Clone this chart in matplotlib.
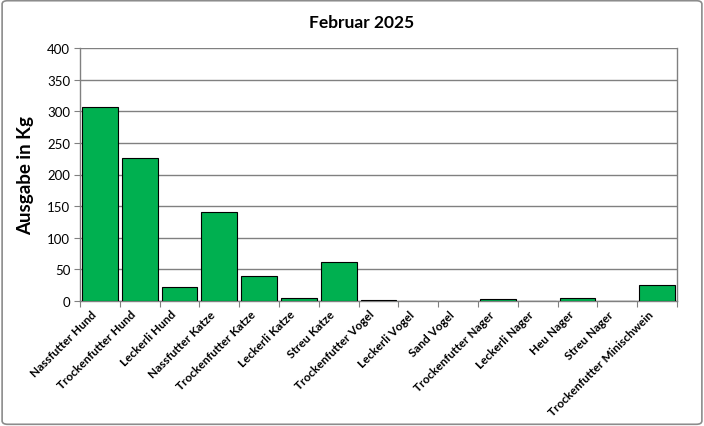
import matplotlib
matplotlib.use("Agg")
import matplotlib.pyplot as plt
import matplotlib.transforms as mtransforms
from matplotlib.patches import FancyBboxPatch

plt.rcParams['font.family'] = ['Lato', 'DejaVu Sans']

categories = ['Nassfutter Hund', 'Trockenfutter Hund', 'Leckerli Hund',
              'Nassfutter Katze', 'Trockenfutter Katze', 'Leckerli Katze',
              'Streu Katze', 'Trockenfutter Vogel', 'Leckerli Vogel',
              'Sand Vogel', 'Trockenfutter Nager', 'Leckerli Nager',
              'Heu Nager', 'Streu Nager', 'Trockenfutter Minischwein']
values = [307, 226, 22, 140, 40, 5, 61, 1, 0.6, 0, 3, 0.5, 5, 0, 25]
y_ticks = [0, 50, 100, 150, 200, 250, 300, 350, 400]

fig = plt.figure(figsize=(7.04, 4.27), dpi=100)
ax = fig.add_axes([80 / 704, 1 - 302 / 427, 597 / 704, 253 / 427])

# chart border
fig.patches.append(FancyBboxPatch((0.003, 0.004), 0.994, 0.992,
                                  boxstyle="round,pad=0,rounding_size=0.008",
                                  transform=fig.transFigure, fill=False,
                                  edgecolor='#8c8c8c', linewidth=1.2))

x = range(len(categories))
ax.bar(x, values, width=0.9, color='#00b050', edgecolor='black', linewidth=0.8, zorder=3)

ax.set_xlim(-0.5, len(categories) - 0.5)
ax.set_ylim(0, 400)
ax.set_yticks(y_ticks)
ax.tick_params(axis='y', labelsize=9.5, length=4, color='#808080', pad=3)
ax.grid(axis='y', color='#808080', linewidth=1.0, zorder=0)

ax.set_xticks([i - 0.5 for i in range(len(categories) + 1)], minor=False)
ax.set_xticklabels([])
ax.set_xticks(list(x), minor=True)
ax.set_xticklabels(categories, minor=True, rotation=45, ha='right', va='center',
                   rotation_mode='anchor', fontsize=8.5, fontweight='bold')
ax.tick_params(axis='x', which='major', length=4, color='#808080')
ax.tick_params(axis='x', which='minor', length=0, pad=8)

# nudge labels a little left so they end under the bar centre
shift = mtransforms.ScaledTranslation(-4 / 72, 0, fig.dpi_scale_trans)
for lbl in ax.get_xticklabels(minor=True):
    lbl.set_transform(lbl.get_transform() + shift)

for s in ['left', 'bottom', 'right', 'top']:
    ax.spines[s].set_color('#808080')
    ax.spines[s].set_linewidth(1.0)
ax.spines['top'].set_visible(False)

ax.set_ylabel('Ausgabe in Kg', fontsize=13.5, fontweight='bold')
ax.yaxis.set_label_coords(-(80 - 34) / 597, 0.5)
fig.text(362 / 704, 1 - 23 / 427, 'Februar 2025', ha='center', va='center',
         fontsize=12.5, fontweight='bold')

fig.savefig('out.png', dpi=100)
